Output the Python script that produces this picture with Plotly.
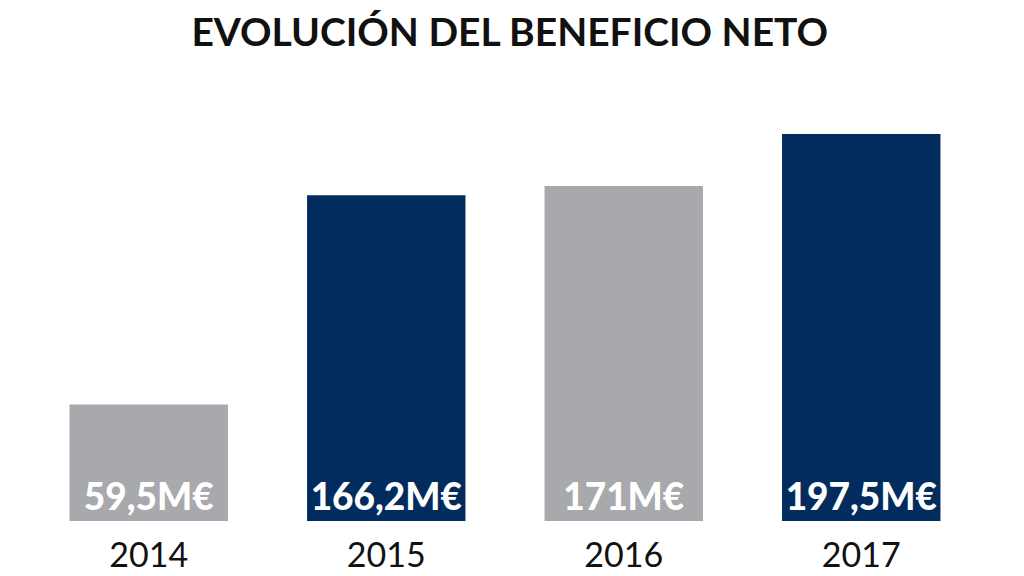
import plotly.graph_objects as go

years = ["2014", "2015", "2016", "2017"]
profit = [59.5, 166.2, 171, 197.5]
labels = ["59,5M€", "166,2M€", "171M€", "197,5M€"]
colors = ["#a7a9ac", "#022b5e", "#a7a9ac", "#022b5e"]

fig = go.Figure(go.Bar(
    x=years,
    y=profit,
    text=labels,
    textposition="inside",
    insidetextanchor="start",
    textangle=0,
    textfont=dict(family="Lato", size=37, color="white", weight=900),
    marker=dict(color=colors, line=dict(width=0)),
    hoverinfo="skip",
))

fig.update_layout(
    width=1024, height=576,
    title=dict(text="<b>EVOLUCIÓN DEL BENEFICIO NETO</b>", x=0.49, xanchor="center",
               y=0.958, yanchor="middle",
               font=dict(family="Lato", size=39, color="#111111", weight=900)),
    margin=dict(t=80, l=22, r=52, b=63),
    bargap=0.333,
    plot_bgcolor="white", paper_bgcolor="white",
    showlegend=False,
    uniformtext=dict(minsize=30, mode="show"),
)
fig.update_xaxes(type="category", showgrid=False, showline=False, zeroline=False,
                 automargin=False,
                 ticks="outside", ticklen=4, tickcolor="rgba(0,0,0,0)",
                 tickfont=dict(family="Lato", size=34, color="#111111"))
fig.update_yaxes(range=[0, 221], visible=False)

fig.write_html("out.html")
